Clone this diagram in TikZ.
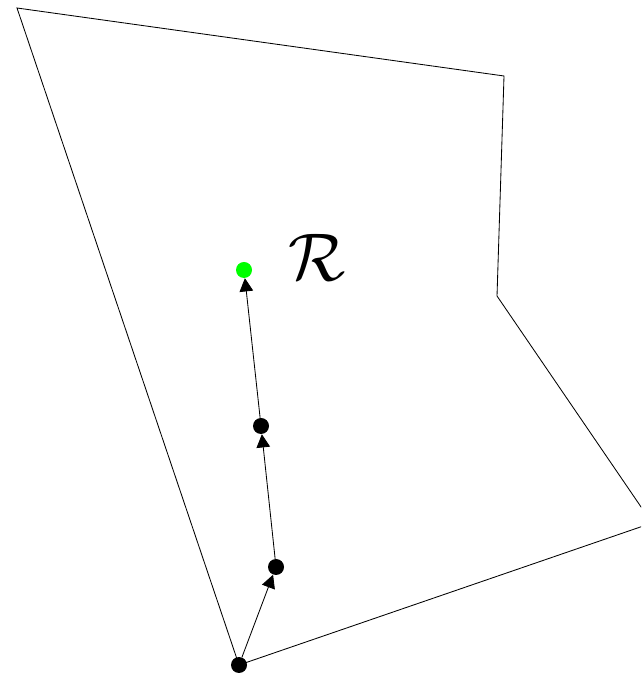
\documentclass[tikz,border=0pt]{standalone}
\usepackage{xcolor}
\usepackage{tikz}
\usetikzlibrary{arrows.meta, positioning, calc}
\definecolor{goalfill}{HTML}{00FF00}
\tikzset{
  region/.style={line width=0.6pt, draw=black, line join=miter},
  dot/.style={circle, fill=black, inner sep=0pt, minimum size=0.4cm},
  goal/.style={dot, fill=goalfill},
  arr/.style={-{Triangle[length=0.33cm, width=0.34cm]}, line width=0.6pt, draw=black},
  lab/.style={scale=4.8},
}

\begin{document}
\begin{tikzpicture}
  \useasboundingbox (0,0) rectangle (16.025,16.925);
  \clip (0,0) rectangle (16.025,16.925);
  % polygon corners
  \coordinate (c1) at (0.425,16.725);
  \coordinate (c2) at (12.6,15.025);
  \coordinate (c3) at (12.425,9.525);
  \coordinate (c4) at (16.3,3.85);
  \coordinate (c5) at (5.975,0.3);
  \draw[region] (c1) -- (c2) -- (c3) -- (c4) -- (c5) -- cycle;
  % path points
  \node[dot] (p0) at (c5) {};
  \node[dot] (p1) at (6.9,2.75) {};
  \node[dot] (p2) at (6.525,6.275) {};
  \node[goal] (pg) at (6.1,10.175) {};
  \draw[arr] (p0) -- (p1);
  \draw[arr] (p1) -- (p2);
  \draw[arr] (p2) -- (pg);
  \node[lab] (rlab) at (7.92,10.5) {$\mathcal{R}$};
\end{tikzpicture}
\end{document}
